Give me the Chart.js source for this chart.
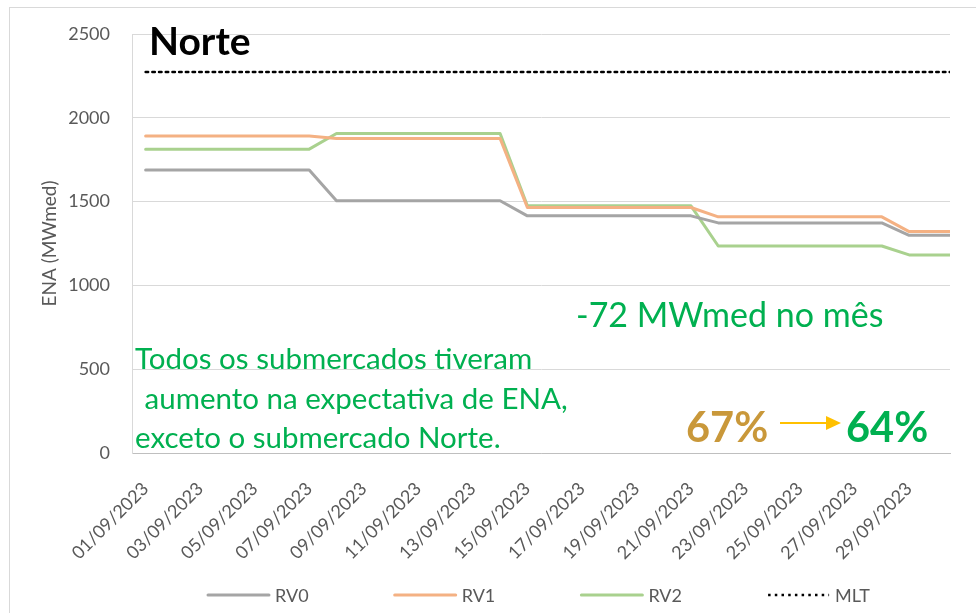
<!DOCTYPE html>
<html>
<head>
<meta charset="utf-8">
<script src="https://cdn.jsdelivr.net/npm/chart.js@4"></script>
<style>
    html, body { margin: 0; padding: 0; background: #fff; }
    #wrap { width: 976px; height: 613px; }
</style>
</head>
<body>
<div id="wrap"><canvas id="chart" width="976" height="613"></canvas></div>
<script>
// the lines run on past 30/09 to the plot edge, so one more day is kept and cut off by the axis max
const days = [
    '01/09/2023', '02/09/2023', '03/09/2023', '04/09/2023', '05/09/2023',
    '06/09/2023', '07/09/2023', '08/09/2023', '09/09/2023', '10/09/2023',
    '11/09/2023', '12/09/2023', '13/09/2023', '14/09/2023', '15/09/2023',
    '16/09/2023', '17/09/2023', '18/09/2023', '19/09/2023', '20/09/2023',
    '21/09/2023', '22/09/2023', '23/09/2023', '24/09/2023', '25/09/2023',
    '26/09/2023', '27/09/2023', '28/09/2023', '29/09/2023', '30/09/2023',
    '01/10/2023'
];

const rv0 = [1688, 1688, 1688, 1688, 1688, 1688, 1688, 1505, 1505, 1505,
             1505, 1505, 1505, 1505, 1415, 1415, 1415, 1415, 1415, 1415,
             1415, 1373, 1373, 1373, 1373, 1373, 1373, 1373, 1299, 1299, 1299];
const rv1 = [1892, 1892, 1892, 1892, 1892, 1892, 1892, 1877, 1877, 1877,
             1877, 1877, 1877, 1877, 1465, 1465, 1465, 1465, 1465, 1465,
             1465, 1409, 1409, 1409, 1409, 1409, 1409, 1409, 1321, 1321, 1321];
const rv2 = [1813, 1813, 1813, 1813, 1813, 1813, 1813, 1906, 1906, 1906,
             1906, 1906, 1906, 1906, 1475, 1475, 1475, 1475, 1475, 1475,
             1475, 1235, 1235, 1235, 1235, 1235, 1235, 1235, 1182, 1182, 1182];
const mlt = [2273, 2273, 2273, 2273, 2273, 2273, 2273, 2273, 2273, 2273,
             2273, 2273, 2273, 2273, 2273, 2273, 2273, 2273, 2273, 2273,
             2273, 2273, 2273, 2273, 2273, 2273, 2273, 2273, 2273, 2273, 2273];

const seriesNames = ['RV0', 'RV1', 'RV2', 'MLT'];
const yTicks = [0, 500, 1000, 1500, 2000, 2500];
const shownDays = 30;

const FONT = 'Lato, "Open Sans", sans-serif';
const textGray = '#595959';
const green = '#00B050';

const toPoints = arr => arr.map((y, i) => ({ x: i, y }));

// texts, legend and frame drawn on top of the chart
const notes = {
    id: 'notes',
    beforeDraw(chart) {
        const ctx = chart.ctx;
        ctx.save();
        ctx.strokeStyle = '#D9D9D9';
        ctx.lineWidth = 1;
        ctx.strokeRect(9.5, 7.5, 1000, 700);
        ctx.restore();
    },
    afterDraw(chart) {
        const ctx = chart.ctx;
        ctx.save();
        ctx.textBaseline = 'alphabetic';
        ctx.textAlign = 'left';

        ctx.fillStyle = '#000';
        ctx.font = `bold 39px ${FONT}`;
        ctx.fillText('Norte', 149, 55);

        ctx.fillStyle = green;
        ctx.font = `34px ${FONT}`;
        ctx.fillText('-72 MWmed no mês', 576, 327);

        ctx.font = `29.5px ${FONT}`;
        ctx.fillText('Todos os submercados tiveram', 135, 369);
        ctx.fillText(' aumento na expectativa de ENA,', 137, 409);
        ctx.fillText('exceto o submercado Norte.', 135, 448);

        ctx.font = `bold 41.5px ${FONT}`;
        ctx.fillStyle = '#C9983A';
        ctx.fillText('67%', 686, 442);
        ctx.fillStyle = green;
        ctx.fillText('64%', 846, 442);

        ctx.strokeStyle = '#FFC000';
        ctx.fillStyle = '#FFC000';
        ctx.lineWidth = 2;
        ctx.beginPath();
        ctx.moveTo(780, 423);
        ctx.lineTo(828, 423);
        ctx.stroke();
        ctx.beginPath();
        ctx.moveTo(826, 416);
        ctx.lineTo(841, 423);
        ctx.lineTo(826, 430);
        ctx.closePath();
        ctx.fill();

        // legend
        const ly = 595;
        chart.data.datasets.forEach((ds, i) => {
            const x0 = 208 + i * 186.7;
            ctx.save();
            ctx.strokeStyle = ds.borderColor;
            ctx.lineWidth = ds.borderWidth;
            ctx.lineCap = ds.borderDash ? 'butt' : 'round';
            ctx.setLineDash(ds.borderDash || []);
            ctx.beginPath();
            ctx.moveTo(x0, ly);
            ctx.lineTo(x0 + 61, ly);
            ctx.stroke();
            ctx.restore();
            ctx.fillStyle = textGray;
            ctx.font = `18px ${FONT}`;
            ctx.textBaseline = 'middle';
            ctx.fillText(ds.label, x0 + 67, ly + 1);
        });
        ctx.restore();
    }
};

new Chart(document.getElementById('chart'), {
    type: 'line',
    data: {
        datasets: [
            { label: seriesNames[0], data: toPoints(rv0), borderColor: '#A5A5A5', borderWidth: 3 },
            { label: seriesNames[1], data: toPoints(rv1), borderColor: '#F4B183', borderWidth: 3 },
            { label: seriesNames[2], data: toPoints(rv2), borderColor: '#A9D18E', borderWidth: 3 },
            { label: seriesNames[3], data: toPoints(mlt), borderColor: '#000000', borderWidth: 2.5, borderDash: [2.5, 4.2] }
        ]
    },
    options: {
        responsive: false,
        animation: false,
        devicePixelRatio: 1,
        layout: { padding: { top: 34, right: 26, bottom: 0, left: 10 } },
        elements: {
            point: { radius: 0, hoverRadius: 0 },
            line: { tension: 0, fill: false, borderCapStyle: 'round', borderJoinStyle: 'round' }
        },
        plugins: {
            legend: { display: false },
            tooltip: { enabled: false }
        },
        scales: {
            x: {
                type: 'linear',
                min: -0.5,
                max: shownDays - 0.5,
                afterBuildTicks: s => {
                    s.ticks = days.slice(0, shownDays)
                        .map((d, i) => i)
                        .filter(i => i % 2 === 0)
                        .map(i => ({ value: i }));
                },
                grid: { display: false },
                border: { display: true, color: '#BFBFBF', width: 1 },
                ticks: {
                    autoSkip: false,
                    minRotation: 45,
                    maxRotation: 45,
                    padding: 17,
                    color: textGray,
                    font: { family: FONT, size: 18 },
                    callback: v => days[v]
                },
                afterFit: s => {
                    s.height = 160;
                    s.paddingLeft = 0;
                    s.paddingRight = 0;
                }
            },
            y: {
                min: yTicks[0],
                max: yTicks[yTicks.length - 1],
                afterBuildTicks: s => { s.ticks = yTicks.map(v => ({ value: v })); },
                grid: { color: '#D9D9D9', drawTicks: false },
                border: { display: true, color: '#D9D9D9' },
                ticks: {
                    padding: 22,
                    color: textGray,
                    font: { family: FONT, size: 18 },
                    callback: v => String(v)
                },
                title: {
                    display: true,
                    text: 'ENA (MWmed)',
                    color: textGray,
                    font: { family: FONT, size: 19 },
                    padding: { top: 28, bottom: 0 }
                },
                afterFit: s => { s.width = 122; }
            }
        }
    },
    plugins: [notes]
});
</script>
</body>
</html>
